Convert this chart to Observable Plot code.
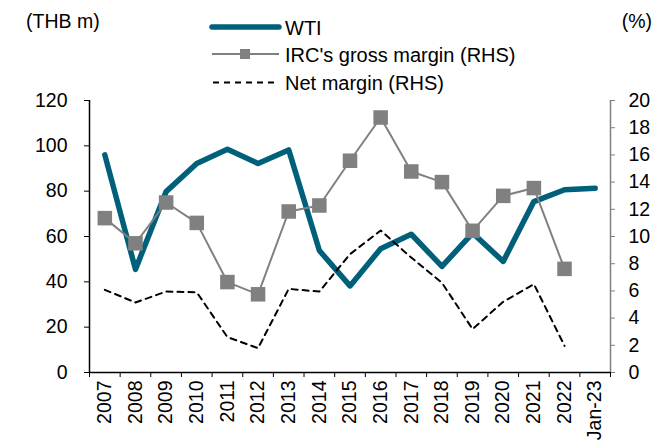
<!DOCTYPE html>
<html>
<head>
<meta charset="utf-8">
<script src="https://cdn.jsdelivr.net/npm/d3@7"></script>
<script src="https://cdn.jsdelivr.net/npm/@observablehq/plot@0.6"></script>
<style>
  body { margin: 0; background: #fff; }
  #wrap { position: relative; width: 656px; height: 441px; font-family: "Liberation Sans", Arial, sans-serif; }
  #head { position: relative; z-index: 1; width: 656px; height: 88px; overflow: visible; }
  #head svg { position: absolute; left: 0; top: 0; overflow: visible; }
  #chart svg { background: transparent; }
</style>
</head>
<body>
<div id="wrap">
  <div id="head">
    <svg width="656" height="100" font-family="Liberation Sans, Arial, sans-serif">
      <text x="26" y="28" font-size="19.5">(THB m)</text>
      <text x="652" y="28" font-size="19.5" text-anchor="end">(%)</text>
      <line x1="212" y1="27" x2="279" y2="27" stroke="#00607a" stroke-width="5.5" stroke-linecap="round"/>
      <text x="285" y="35" font-size="20">WTI</text>
      <line x1="212" y1="54" x2="279" y2="54" stroke="#808080" stroke-width="2"/>
      <rect x="240" y="49" width="10" height="10" fill="#808080"/>
      <text x="285" y="61.5" font-size="20">IRC's gross margin (RHS)</text>
      <line x1="213" y1="82.5" x2="274" y2="82.5" stroke="#000" stroke-width="2" stroke-dasharray="6,5"/>
      <text x="285" y="89.5" font-size="20">Net margin (RHS)</text>
    </svg>
  </div>
  <div id="chart"></div>
</div>
<script>
const categories = ["2007","2008","2009","2010","2011","2012","2013","2014","2015","2016","2017","2018","2019","2020","2021","2022","Jan-23"];
const wti = [96, 45.5, 79.8, 92.2, 98.5, 92.2, 98.2, 53.8, 38.2, 54.6, 61, 46.8, 61.5, 49, 75.4, 80.6, 81.3];
const grossMargin = [11.35, 9.5, 12.5, 11.0, 6.65, 5.75, 11.84, 12.28, 15.57, 18.75, 14.78, 14.0, 10.42, 12.99, 13.56, 7.62, null];
const netMargin = [6.08, 5.15, 5.95, 5.9, 2.6, 1.79, 6.15, 5.95, 8.7, 10.44, 8.45, 6.6, 3.19, 5.2, 6.5, 1.96, null];
const leftTicks = [0, 20, 40, 60, 80, 100, 120];
const rightTicks = [0, 2, 4, 6, 8, 10, 12, 14, 16, 18, 20];

const RATIO = 120 / 20; // right axis (%) mapped onto left axis (THB m)
const idx = categories.map((c, i) => i);
const bounds = d3.range(-0.5, categories.length, 1);

const teal = "#00607a";
const gray = "#808080";

const chart = Plot.plot({
  width: 656,
  height: 353,
  marginTop: 12,
  marginBottom: 69,
  marginLeft: 89,
  marginRight: 46,
  style: { fontFamily: "Liberation Sans, Arial, sans-serif", fontSize: "19.5px", color: "#000", background: "transparent", overflow: "visible" },
  x: { domain: [-0.5, categories.length - 0.5] },
  y: { domain: [0, 120] },
  marks: [
    // axes
    Plot.axisY({ anchor: "left", ticks: leftTicks, tickSize: 5, tickPadding: 17, label: null, stroke: "#000", fill: "#000" }),
    Plot.axisY({ anchor: "right", ticks: rightTicks.map(v => v * RATIO), tickFormat: d => String(Math.round(d / RATIO)), tickSize: 4, tickPadding: 14, label: null, stroke: gray, fill: "#000" }),
    Plot.axisX({ ticks: bounds, tickFormat: () => "", tickSize: 5, label: null, stroke: "#000" }),
    Plot.axisX({ ticks: idx, tickFormat: i => categories[i], tickSize: 0, tickPadding: 8, tickRotate: -90, label: null, fill: "#000" }),
    Plot.ruleX([-0.5], { stroke: "#000", strokeWidth: 1.5 }),
    Plot.ruleX([categories.length - 0.5], { stroke: gray, strokeWidth: 1.5 }),
    Plot.ruleY([0], { stroke: "#000", strokeWidth: 1.5 }),
    // series
    Plot.line(idx, { x: i => i, y: i => wti[i], stroke: teal, strokeWidth: 5.5, strokeLinejoin: "round", strokeLinecap: "round" }),
    Plot.line(idx, { x: i => i, y: i => netMargin[i] == null ? null : netMargin[i] * RATIO, stroke: "#000", strokeWidth: 2, strokeDasharray: "6,5" }),
    Plot.line(idx, { x: i => i, y: i => grossMargin[i] == null ? null : grossMargin[i] * RATIO, stroke: gray, strokeWidth: 2 }),
    Plot.dot(idx, { x: i => i, y: i => grossMargin[i] == null ? null : grossMargin[i] * RATIO, symbol: "square", r: 8.2, fill: gray, stroke: "none" })
  ]
});
document.getElementById("chart").appendChild(chart);
</script>
</body>
</html>
